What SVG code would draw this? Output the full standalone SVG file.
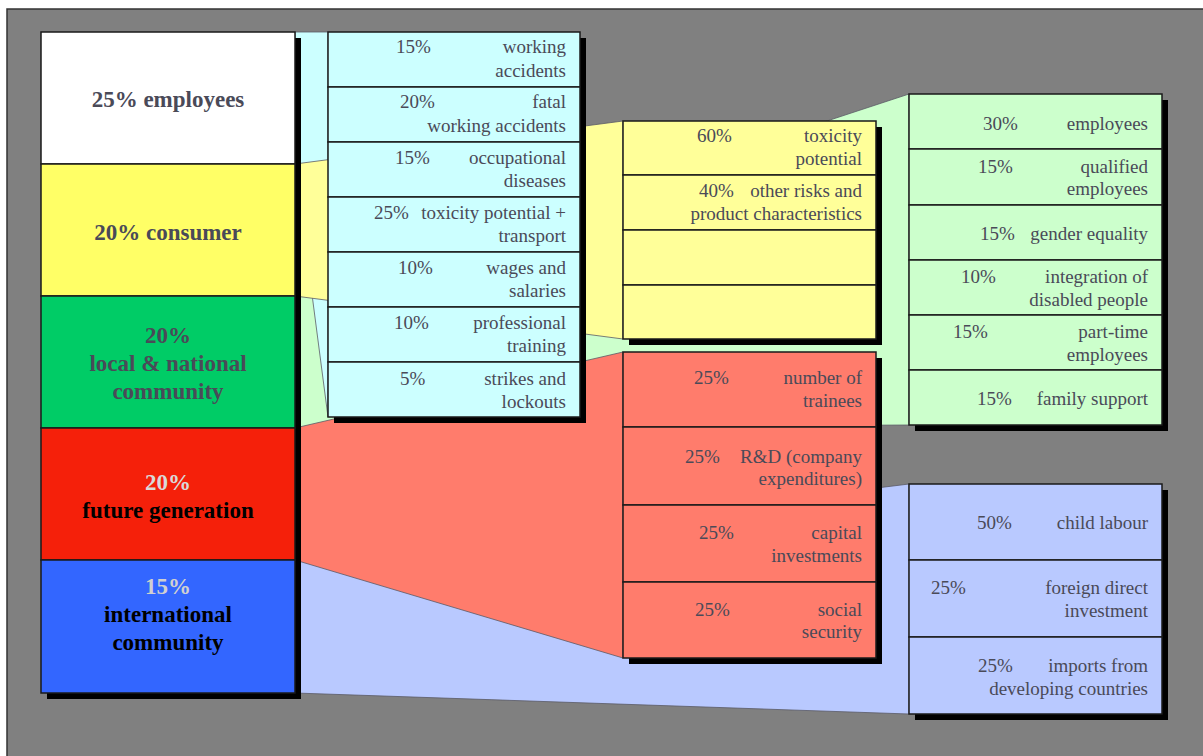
<svg xmlns="http://www.w3.org/2000/svg" width="1203" height="756" viewBox="0 0 1203 756">
<style>
.bg{fill:#808080;stroke:#333;stroke-width:1.5}
.sh{fill:#000}
.row{stroke:#1a1a1a;stroke-width:1.5}
.fan{stroke:#5a5a66;stroke-width:0.8}
.big{font-family:"Liberation Serif","Times New Roman",serif;font-weight:bold;font-size:23px;text-anchor:middle;fill:#4a4a58}
.t{font-family:"Liberation Serif","Times New Roman",serif;font-size:19px;fill:#4a4a58}
.r{text-anchor:end}
.cy{fill:#ccffff}.ye{fill:#ffff99}.gr{fill:#ccffcc}.rd{fill:#ff7c6c}.bl{fill:#b9c9ff}
</style>
<rect x="0" y="0" width="1203" height="756" fill="#ffffff"/>
<rect class="bg" x="7" y="9" width="1200" height="752"/>

<g id="connectors">
<polygon class="fan gr" points="295,296 909,94 909,425 295,428"/>
<polygon class="fan bl" points="295,560 909,484 909,714 295,693"/>
<polygon class="fan cy" points="295,32 328,32 328,417 295,164"/>
<polygon class="fan rd" points="295,428 623,352 623,658 295,560"/>
<polygon class="fan ye" points="295,164 623,121 623,339 295,296"/>
</g>

<g id="column-shadow"><rect class="sh" x="47" y="38" width="254" height="661"/></g>

<g id="employees">
<rect class="row" x="41" y="32" width="254" height="132" fill="#ffffff"/>
<text class="big" x="168" y="107">25% employees</text>
</g>
<g id="consumer">
<rect class="row" x="41" y="164" width="254" height="132" fill="#ffff66"/>
<text class="big" x="168" y="240">20% consumer</text>
</g>
<g id="local-national-community">
<rect class="row" x="41" y="296" width="254" height="132" fill="#00cc66"/>
<text class="big" x="168" y="343">20%</text>
<text class="big" x="168" y="371">local &amp; national</text>
<text class="big" x="168" y="399">community</text>
</g>
<g id="future-generation">
<rect class="row" x="41" y="428" width="254" height="132" fill="#f5200a"/>
<text class="big" x="168" y="490" style="fill:#d9d9d9">20%</text>
<text class="big" x="168" y="518" style="fill:#000">future generation</text>
</g>
<g id="international-community">
<rect class="row" x="41" y="560" width="254" height="133" fill="#3366ff"/>
<text class="big" x="168" y="594" style="fill:#d0d0d0">15%</text>
<text class="big" x="168" y="622" style="fill:#000">international</text>
<text class="big" x="168" y="650" style="fill:#000">community</text>
</g>

<g id="employees-indicators">
<rect class="sh" x="334" y="38" width="252" height="385"/>
<rect class="row cy" x="328" y="32" width="252" height="55"/>
<rect class="row cy" x="328" y="87" width="252" height="55"/>
<rect class="row cy" x="328" y="142" width="252" height="55"/>
<rect class="row cy" x="328" y="197" width="252" height="55"/>
<rect class="row cy" x="328" y="252" width="252" height="55"/>
<rect class="row cy" x="328" y="307" width="252" height="55"/>
<rect class="row cy" x="328" y="362" width="252" height="55"/>
<text class="t" x="396" y="53">15%</text><text class="t r" x="566" y="53">working</text><text class="t r" x="566" y="77">accidents</text>
<text class="t" x="400" y="108">20%</text><text class="t r" x="566" y="108">fatal</text><text class="t r" x="566" y="132">working accidents</text>
<text class="t" x="395" y="164">15%</text><text class="t r" x="566" y="164">occupational</text><text class="t r" x="566" y="187">diseases</text>
<text class="t" x="374" y="219">25%</text><text class="t r" x="566" y="219">toxicity potential +</text><text class="t r" x="566" y="242">transport</text>
<text class="t" x="398" y="274">10%</text><text class="t r" x="566" y="274">wages and</text><text class="t r" x="566" y="297">salaries</text>
<text class="t" x="394" y="329">10%</text><text class="t r" x="566" y="329">professional</text><text class="t r" x="566" y="352">training</text>
<text class="t" x="400" y="385">5%</text><text class="t r" x="566" y="385">strikes and</text><text class="t r" x="566" y="408">lockouts</text>
</g>

<g id="consumer-indicators">
<rect class="sh" x="629" y="127" width="253" height="218"/>
<rect class="row ye" x="623" y="121" width="253" height="54"/>
<rect class="row ye" x="623" y="175" width="253" height="55"/>
<rect class="row ye" x="623" y="230" width="253" height="55"/>
<rect class="row ye" x="623" y="285" width="253" height="54"/>
<text class="t" x="697" y="142">60%</text><text class="t r" x="862" y="142">toxicity</text><text class="t r" x="862" y="165">potential</text>
<text class="t" x="699" y="197">40%</text><text class="t r" x="862" y="197">other risks and</text><text class="t r" x="862" y="220">product characteristics</text>
</g>

<g id="local-community-indicators">
<rect class="sh" x="915" y="100" width="253" height="331"/>
<rect class="row gr" x="909" y="94" width="253" height="55"/>
<rect class="row gr" x="909" y="149" width="253" height="56"/>
<rect class="row gr" x="909" y="205" width="253" height="55"/>
<rect class="row gr" x="909" y="260" width="253" height="55"/>
<rect class="row gr" x="909" y="315" width="253" height="55"/>
<rect class="row gr" x="909" y="370" width="253" height="55"/>
<text class="t" x="983" y="130">30%</text><text class="t r" x="1148" y="130">employees</text>
<text class="t" x="978" y="173">15%</text><text class="t r" x="1148" y="173">qualified</text><text class="t r" x="1148" y="195">employees</text>
<text class="t" x="980" y="240">15%</text><text class="t r" x="1148" y="240">gender equality</text>
<text class="t" x="961" y="283">10%</text><text class="t r" x="1148" y="283">integration of</text><text class="t r" x="1148" y="306">disabled people</text>
<text class="t" x="953" y="338">15%</text><text class="t r" x="1148" y="338">part-time</text><text class="t r" x="1148" y="361">employees</text>
<text class="t" x="977" y="405">15%</text><text class="t r" x="1148" y="405">family support</text>
</g>

<g id="future-generation-indicators">
<rect class="sh" x="629" y="358" width="253" height="306"/>
<rect class="row rd" x="623" y="352" width="253" height="75"/>
<rect class="row rd" x="623" y="427" width="253" height="78"/>
<rect class="row rd" x="623" y="505" width="253" height="77"/>
<rect class="row rd" x="623" y="582" width="253" height="76"/>
<text class="t" x="694" y="384">25%</text><text class="t r" x="862" y="384">number of</text><text class="t r" x="862" y="407">trainees</text>
<text class="t" x="685" y="463">25%</text><text class="t r" x="862" y="463">R&amp;D (company</text><text class="t r" x="862" y="485">expenditures)</text>
<text class="t" x="699" y="539">25%</text><text class="t r" x="862" y="539">capital</text><text class="t r" x="862" y="562">investments</text>
<text class="t" x="695" y="616">25%</text><text class="t r" x="862" y="616">social</text><text class="t r" x="862" y="638">security</text>
</g>

<g id="international-indicators">
<rect class="sh" x="915" y="490" width="253" height="230"/>
<rect class="row bl" x="909" y="484" width="253" height="76"/>
<rect class="row bl" x="909" y="560" width="253" height="77"/>
<rect class="row bl" x="909" y="637" width="253" height="77"/>
<text class="t" x="977" y="529">50%</text><text class="t r" x="1148" y="529">child labour</text>
<text class="t" x="931" y="594">25%</text><text class="t r" x="1148" y="594">foreign direct</text><text class="t r" x="1148" y="617">investment</text>
<text class="t" x="978" y="672">25%</text><text class="t r" x="1148" y="672">imports from</text><text class="t r" x="1148" y="695">developing countries</text>
</g>
</svg>
